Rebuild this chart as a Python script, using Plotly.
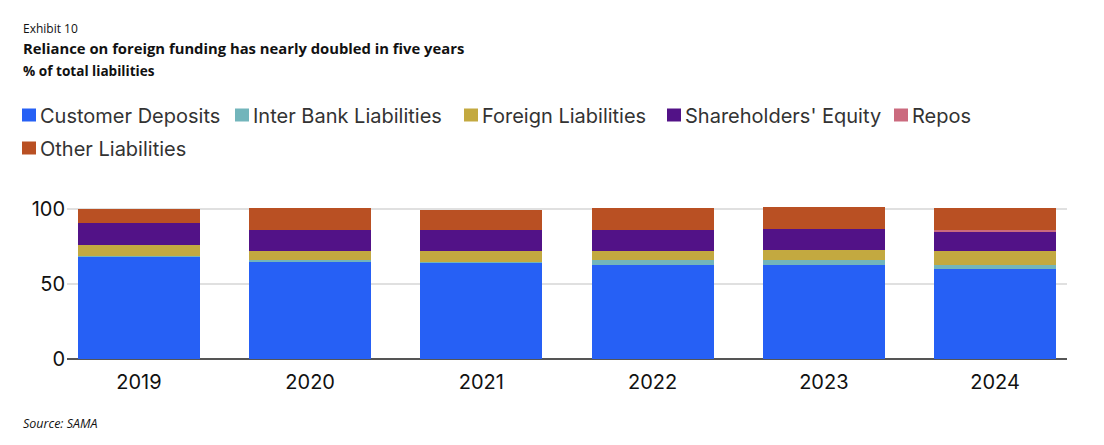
import plotly.graph_objects as go

years = ["2019", "2020", "2021", "2022", "2023", "2024"]
customer_deposits = [67.8, 64.4, 63.8, 62.4, 62.4, 59.8]
inter_bank = [0.9, 1.4, 0.9, 3.4, 3.4, 2.6]
foreign_liab = [7.1, 6.0, 7.1, 6.0, 6.6, 9.4]
equity = [14.6, 14.0, 14.0, 14.0, 14.0, 12.6]
repos = [0.0, 0.0, 0.0, 0.0, 0.0, 1.4]
other_liab = [9.4, 14.6, 13.3, 14.6, 14.7, 14.6]

series = [
    ("Customer Deposits", customer_deposits, "#2660F5"),
    ("Inter Bank Liabilities", inter_bank, "#72B5BB"),
    ("Foreign Liabilities", foreign_liab, "#C3A940"),
    ("Shareholders' Equity", equity, "#521287"),
    ("Repos", repos, "#CB6A7E"),
    ("Other Liabilities", other_liab, "#B95023"),
]

# the page body adds an 8px offset; lay out relative to that
OFF = 8
W, H = 1104, 445
L, T = 67 - OFF, 201 - OFF
PW = 1000
PH = 158
R = W - L - PW
B = H - T - PH


def px_x(px):
    return (px - OFF - L) / PW


def px_y(py):
    return (T + PH - (py - OFF)) / PH


fig = go.Figure()
for name, vals, col in series:
    fig.add_trace(go.Bar(x=years, y=vals, name=name, marker=dict(color=col, line=dict(width=0))))

fig.update_layout(
    barmode="stack",
    bargap=0.287,
    width=W, height=H,
    margin=dict(l=L, r=R, t=T, b=B, autoexpand=False),
    plot_bgcolor="white", paper_bgcolor="white",
    font=dict(family="Inter, Liberation Sans, sans-serif", color="#111"),
    showlegend=False,
    xaxis=dict(range=[-0.42, 5.42], showgrid=False, ticks="", tickfont=dict(size=20, color="#111"),
               showline=False, automargin=False, ticklabelstandoff=9),
    yaxis=dict(range=[0, 105], tickvals=[0, 50, 100], showgrid=True, gridcolor="#E0E0E0", gridwidth=2,
               zeroline=True, zerolinecolor="#555", zerolinewidth=2, automargin=False,
               tickfont=dict(size=20, color="#111"), ticks="", ticklabelstandoff=1),
)

# Manual legend (positions in reference pixels)
legend_pos = [(22, 115), (235, 115), (464, 115), (667, 115), (894, 115), (22, 148)]
for (name, _, col), (lx, ly) in zip(series, legend_pos):
    fig.add_shape(type="rect", xref="paper", yref="paper",
                  x0=px_x(lx), x1=px_x(lx + 14), y0=px_y(ly - 6.5), y1=px_y(ly + 6.5),
                  fillcolor=col, line=dict(width=0))
    fig.add_annotation(xref="paper", yref="paper", x=px_x(lx + 16), y=px_y(ly + 1),
                       xanchor="left", yanchor="middle", text=name, showarrow=False,
                       font=dict(size=20, color="#333", family="Inter, Liberation Sans, sans-serif"))

texts = [
    ("Exhibit 10", 28, 12, "#111"),
    ("<b>Reliance on foreign funding has nearly doubled in five years</b>", 48, 14.8, "#111"),
    ("<b>% of total liabilities</b>", 70, 13.6, "#111"),
    ("<i>Source: SAMA</i>", 423, 12.5, "#111"),
]
for t, ypx, sz, c in texts:
    fig.add_annotation(xref="paper", yref="paper", x=px_x(21), y=px_y(ypx),
                       xanchor="left", yanchor="middle", text=t, showarrow=False,
                       font=dict(size=sz, color=c, family="Open Sans, Noto Sans, sans-serif"))

fig.write_html("out.html")
